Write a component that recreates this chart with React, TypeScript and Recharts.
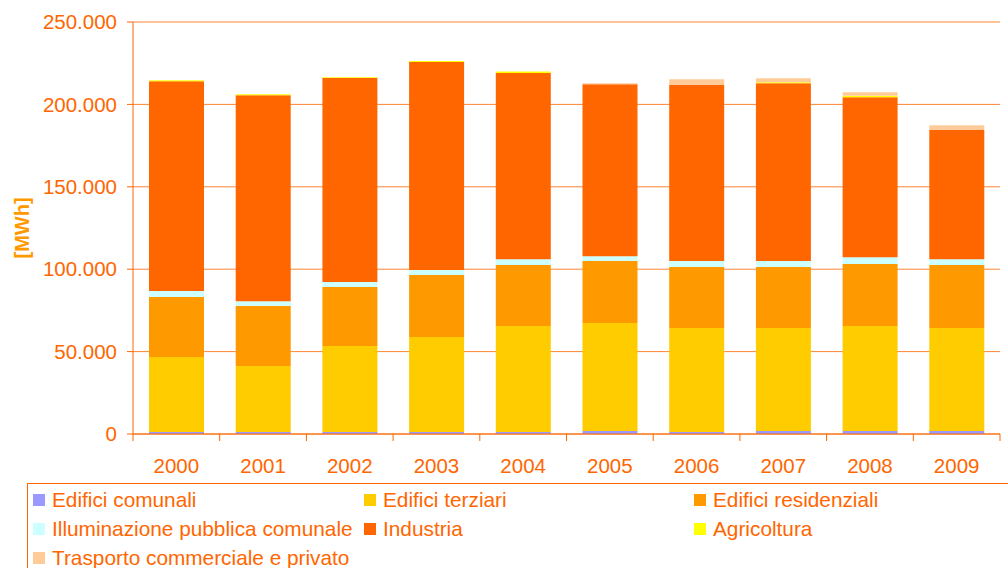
import React from 'react';
import { BarChart, Bar, XAxis, YAxis, CartesianGrid } from 'recharts';

// ---- data ----
const years = ['2000', '2001', '2002', '2003', '2004', '2005', '2006', '2007', '2008', '2009'];
const edificiComunali = [1200, 1200, 1200, 1200, 1200, 1800, 1200, 1800, 1800, 1800];
const edificiTerziari = [45500, 40000, 52200, 57700, 64300, 65500, 63100, 62500, 63700, 62500];
const edificiResidenziali = [36400, 36400, 35800, 37600, 37000, 37600, 37000, 37000, 37600, 38200];
const illuminazionePubblica = [3600, 3000, 3000, 3000, 3600, 3000, 3600, 3600, 4200, 3600];
const industria = [127400, 125000, 123800, 126200, 112900, 104400, 106800, 108000, 97100, 78300];
const agricoltura = [600, 600, 500, 600, 1000, 0, 0, 600, 800, 0];
const trasporto = [0, 0, 0, 0, 0, 600, 3600, 2400, 2200, 3000];
const yTicks = [0, 50000, 100000, 150000, 200000, 250000];

const series = [
  { key: 'comunali', name: 'Edifici comunali', values: edificiComunali, color: '#9999FF' },
  { key: 'terziari', name: 'Edifici terziari', values: edificiTerziari, color: '#FFCC00' },
  { key: 'residenziali', name: 'Edifici residenziali', values: edificiResidenziali, color: '#FF9900' },
  { key: 'illuminazione', name: 'Illuminazione pubblica comunale', values: illuminazionePubblica, color: '#CCFFFF' },
  { key: 'industria', name: 'Industria', values: industria, color: '#FF6600' },
  { key: 'agricoltura', name: 'Agricoltura', values: agricoltura, color: '#FFFF00' },
  { key: 'trasporto', name: 'Trasporto commerciale e privato', values: trasporto, color: '#FFCC99' },
];

const data = years.map((y, i) => {
  const row: Record<string, any> = { year: y };
  series.forEach((s) => {
    row[s.key] = s.values[i];
  });
  return row;
});

// ---- styles ----
const ORANGE = '#FF6600';
const FONT = 'Arial, "Liberation Sans", sans-serif';
const FS = 20.5;
const LEGEND_FS = 20.8;
const W = 1008;
const H = 480;
const MARGIN = { top: 22, right: 8, left: 0, bottom: 0 };
const Y_W = 133;
const PLOT_W = W - MARGIN.left - MARGIN.right - Y_W;
const BAND = PLOT_W / years.length;
const X_TICK_SIZE = 8;
const X_TICK_MARGIN = 16;

const fmt = (v: number) => String(Math.round(v)).replace(/\B(?=(\d{3})+(?!\d))/g, '.');

const XTick = (props: any) => {
  const { x, y, payload, index } = props;
  const half = BAND / 2;
  const axisY = y - (X_TICK_SIZE + X_TICK_MARGIN);
  return (
    <g>
      <line x1={x - half} x2={x - half} y1={axisY} y2={axisY + 7} stroke={ORANGE} />
      {index === years.length - 1 && (
        <line x1={x + half} x2={x + half} y1={axisY} y2={axisY + 7} stroke={ORANGE} />
      )}
      <text x={x} y={y} dy="0.71em" textAnchor="middle" fill={ORANGE} fontSize={FS} fontFamily={FONT}>
        {payload.value}
      </text>
    </g>
  );
};

const YLabel = (props: any) => {
  const vb = props.viewBox || {};
  const cx = 22;
  const cy = (vb.y ?? 22) + (vb.height ?? 412) / 2;
  return (
    <text
      x={cx}
      y={cy}
      transform={`rotate(-90, ${cx}, ${cy})`}
      textAnchor="middle"
      dominantBaseline="central"
      fill="#FF9900"
      fontWeight="bold"
      fontSize={20}
      fontFamily={FONT}
    >
      [MWh]
    </text>
  );
};

export default function App() {
  return (
    <div style={{ position: 'absolute', left: 0, top: 0, width: W, height: 568, background: '#fff', overflow: 'hidden' }}>
      <BarChart width={W} height={H} data={data} margin={MARGIN}>
        <CartesianGrid yAxisId="l" vertical={false} stroke={ORANGE} strokeOpacity={0.8} />
        <XAxis
          dataKey="year"
          height={46}
          axisLine={{ stroke: ORANGE }}
          tickLine={false}
          tickSize={X_TICK_SIZE}
          tickMargin={X_TICK_MARGIN}
          tick={<XTick />}
          interval={0}
        />
        <YAxis
          yAxisId="l"
          width={Y_W}
          domain={[0, 250000]}
          ticks={yTicks}
          tickFormatter={fmt}
          axisLine={{ stroke: ORANGE }}
          tickLine={{ stroke: ORANGE }}
          tickSize={6}
          tickMargin={10}
          tick={{ fill: ORANGE, fontSize: FS, fontFamily: FONT }}
          label={<YLabel />}
        />
        <YAxis yAxisId="r" orientation="right" width={0} tick={false} tickLine={false} axisLine={{ stroke: ORANGE }} />
        {series.map((s) => (
          <Bar
            key={s.key}
            yAxisId="l"
            dataKey={s.key}
            name={s.name}
            stackId="a"
            fill={s.color}
            barSize={55}
            isAnimationActive={false}
          />
        ))}
      </BarChart>
      <div
        style={{
          position: 'absolute',
          left: 27,
          top: 483,
          width: 1000,
          height: 120,
          borderTop: `1px solid ${ORANGE}`,
          borderLeft: `1px solid ${ORANGE}`,
          boxSizing: 'border-box',
          display: 'grid',
          gridTemplateColumns: '331px 330px 300px',
          gridAutoRows: '29px',
          paddingLeft: 5,
          paddingTop: 1,
          fontFamily: FONT,
          fontSize: LEGEND_FS,
          color: ORANGE,
        }}
      >
        {series.map((s) => (
          <div key={s.key} style={{ display: 'flex', alignItems: 'center', whiteSpace: 'nowrap' }}>
            <span style={{ display: 'inline-block', width: 12, height: 12, background: s.color, marginRight: 7 }} />
            <span>{s.name}</span>
          </div>
        ))}
      </div>
    </div>
  );
}
